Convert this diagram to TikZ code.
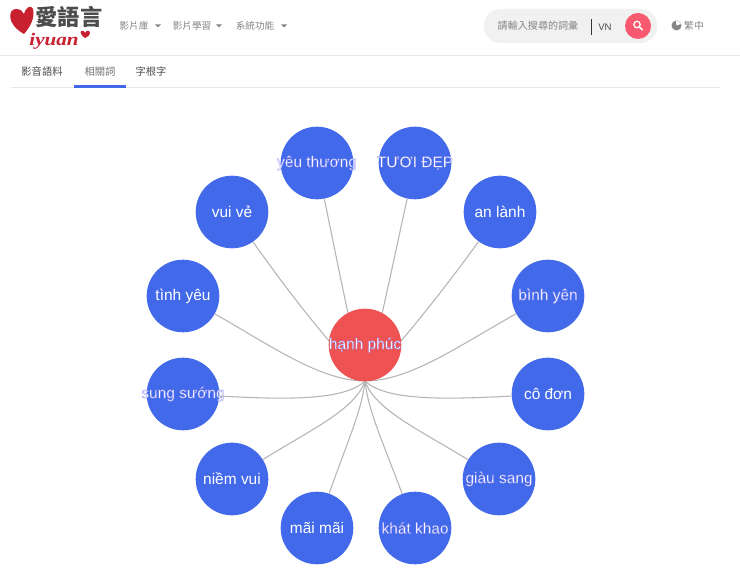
\documentclass[tikz,border=0pt]{standalone}
\usepackage{fontspec}
\setmainfont{Liberation Sans}
\newfontfamily\cjk{Noto Sans CJK TC}
\newfontfamily\logofont{Liberation Serif}
\definecolor{wordblue}{HTML}{4169E9}
\definecolor{hubred}{HTML}{EE5253}
\definecolor{linkgray}{HTML}{B5B5B5}
\definecolor{menugray}{HTML}{858585}
\definecolor{barbg}{HTML}{F1F1F1}
\definecolor{rulegray}{HTML}{E8E8E8}
\definecolor{btnred}{HTML}{F8596E}
\definecolor{logored}{HTML}{C8202F}
\newcommand{\lab}[1]{\makebox[0pt]{\raisebox{-1pt}{#1}}}
\newcommand{\halo}[1]{\lab{\special{pdf:code 0.5 0.5 0.95 RG 0.22 w 2 Tr}#1\special{pdf:code 0 Tr}}}
\tikzset{
  word/.style={circle,fill=wordblue,minimum size=62pt,inner sep=0pt,text=white,font=\fontsize{13.2}{15}\selectfont},
  hub/.style={word,fill=hubred},
  link/.style={linkgray,line width=.9pt},
  menu/.style={inner sep=0pt,text=menugray,font=\cjk\fontsize{8.2}{10}\selectfont},
  tab/.style={inner sep=0pt,text=black!70,font=\cjk\fontsize{8.8}{10}\selectfont},
}
\begin{document}
\begin{tikzpicture}[x=.03cm,y=-.03cm]
  \useasboundingbox (0,0) rectangle (740,573);
  \fill[white] (0,0) rectangle (740,573);

  % header
  \draw[rulegray,line width=.6pt] (0,55) -- (740,55);
  \draw[rulegray,line width=.6pt] (11,87.5) -- (720,87.5);
  \fill[wordblue] (74,85) rectangle (126,88);
  \node[tab] (tabmedia) at (42,72) {影音語料};
  \node[tab,text=black!55] (tabrelated) at (100,72) {相關詞};
  \node[tab] (tabroot) at (151,72) {字根字};

  % logo
  \fill[logored] (24,34) .. controls (6,24) and (8,9) .. (16,9)
    .. controls (20,9) and (23,11) .. (24,14)
    .. controls (25,8) and (31,4) .. (33,9)
    .. controls (35,17) and (31,26) .. (24,34);
  \node[inner sep=0pt,text=black!70,font=\cjk\bfseries\fontsize{19}{21}\selectfont] (logotext) at (69,17) {愛語言};
  \node[inner sep=0pt,xscale=1.2,text=logored,font=\logofont\bfseries\itshape\fontsize{15}{16}\selectfont] (logoname) at (54,41) {iyuan};
  \fill[logored] (85,38) .. controls (79,34) and (80,30) .. (83,31)
    .. controls (84,31) and (85,32) .. (85,33)
    .. controls (86,30) and (90,30) .. (90,33)
    .. controls (90,35) and (88,37) .. (85,38);

  % menu
  \node[menu] (menua) at (134,26) {影片庫};
  \node[menu] (menub) at (192,26) {影片學習};
  \node[menu] (menuc) at (255,26) {系統功能};
  \fill[menugray] (155,24.5) -- (161,24.5) -- (158,27.5) -- cycle;
  \fill[menugray] (216,24.5) -- (222,24.5) -- (219,27.5) -- cycle;
  \fill[menugray] (281,24.5) -- (287,24.5) -- (284,27.5) -- cycle;

  % search
  \fill[barbg,rounded corners=14pt] (484,9) rectangle (657,43);
  \node[menu,font=\cjk\fontsize{8.6}{10}\selectfont] (searchtext) at (538,26) {請輸入搜尋的詞彙};
  \draw[black!80,line width=.7pt] (591.5,19) -- (591.5,35);
  \node[menu,text=black!70,font=\fontsize{8.2}{10}\selectfont] (lang) at (605,27) {VN};
  \fill[btnred] (638,26) circle (13);
  \draw[white,line width=1.1pt] (637,24.5) circle (3.2);
  \draw[white,line width=1.3pt] (639.5,27) -- (642.5,30);
  \fill[menugray] (676.5,25.5) circle (5);
  \fill[white] (676.5,25.5) -- (681,24) arc[start angle=-18,end angle=-100,radius=4.5] -- cycle;
  \node[menu,font=\cjk\fontsize{8.4}{10}\selectfont] (uilang) at (694,26) {繁中};

  % graph
  \coordinate (root) at (365,381);
  \node[word] (n1) at (317,163) {\halo{yêu thương}};
  \node[word] (n2) at (415,163) {\halo{TƯƠI ĐẸP}};
  \node[word] (n3) at (500,212) {\lab{an lành}};
  \node[word] (n4) at (548,296) {\halo{bình yên}};
  \node[word] (n5) at (548,394) {\lab{cô đơn}};
  \node[word] (n6) at (499,479) {\halo{giàu sang}};
  \node[word] (n7) at (415,528) {\halo{khát khao}};
  \node[word] (n8) at (317,528) {\lab{mãi mãi}};
  \node[word] (n9) at (232,479) {\lab{niềm vui}};
  \node[word] (n10) at (183,394) {\halo{sung sướng}};
  \node[word] (n11) at (183,296) {\lab{tình yêu}};
  \node[word] (n12) at (232,212) {\lab{vui vẻ}};

  \foreach \n/\ax/\ay/\bx/\by in {1/345/300/355/350,2/385/300/375/350,3/429/310/390/355,4/460/345/410/381,
      5/440/400/385/400,6/420/430/375/410,7/382/440/368/410,8/348/440/362/410,
      9/310/430/355/410,10/290/400/345/400,11/270/345/320/381,12/301/310/340/355}
    \draw[link] (n\n) .. controls (\ax,\ay) and (\bx,\by) .. (root);

  \node[hub] (n0) at (365,345) {\halo{hạnh phúc}};
\end{tikzpicture}
\end{document}
